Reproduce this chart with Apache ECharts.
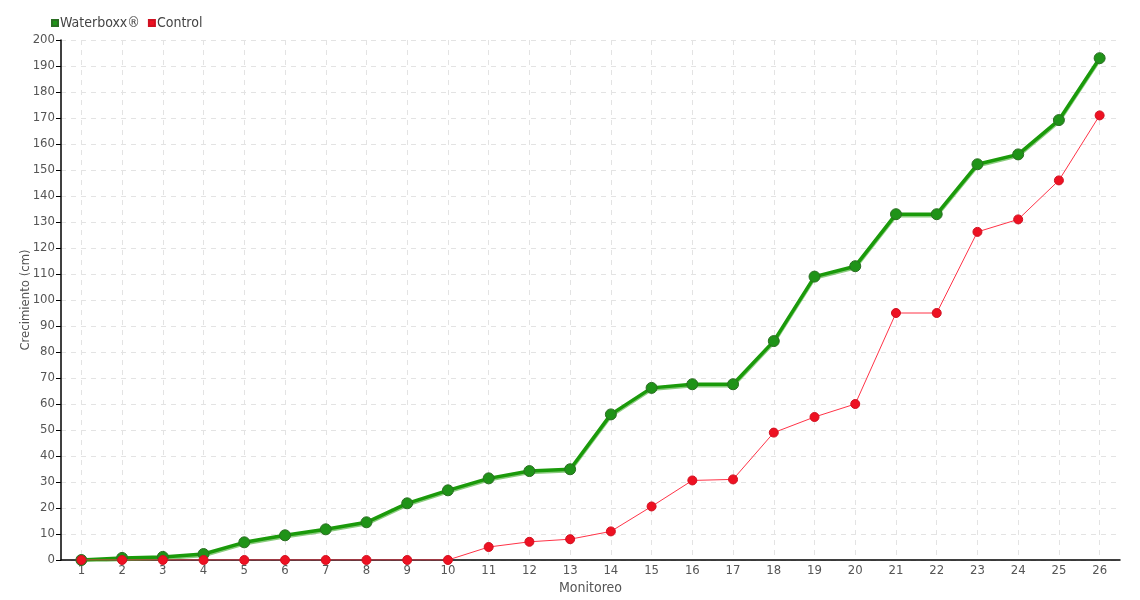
<!DOCTYPE html>
<html><head><meta charset="utf-8">
<script src="https://cdn.jsdelivr.net/npm/echarts@6/dist/echarts.min.js"></script>
<style>html,body{margin:0;padding:0;background:#fff}#c{width:1140px;height:600px}</style>
</head><body><div id="c"></div>
<script>
const categories = ['1','2','3','4','5','6','7','8','9','10','11','12','13','14','15','16','17','18','19','20','21','22','23','24','25','26'];
const waterboxx = [0,0.8,1.2,2.3,6.8,9.5,11.8,14.5,21.8,26.8,31.4,34.2,34.9,56,66.2,67.6,67.6,84.2,109,113,133,133,152.2,156,169.2,193];
const control = [0,0,0,0,0,0,0,0,0,0,5,7,8,11,20.6,30.6,31,49,55,60,95,95,126.2,131,146,171];
const yTicks = {min:0, max:200, interval:10};
const FONT = '"DejaVu Sans Condensed","DejaVu Sans",sans-serif';

const chart = echarts.init(document.getElementById('c'));
chart.setOption({
  animation:false,
  textStyle:{fontFamily:FONT},
  legend:{
    left:46, top:11, itemWidth:6, itemHeight:6, itemGap:8,
    icon:'rect',
    textStyle:{fontFamily:FONT,fontSize:14,color:'#444',padding:[0,0,0,-3]},
    data:['Waterboxx®','Control']
  },
  grid:{left:61,right:20,top:40,bottom:40,containLabel:false,outerBoundsMode:'none'},
  xAxis:{
    type:'category', data:categories, boundaryGap:true,
    name:'Monitoreo', nameLocation:'middle', nameGap:21, nameMoveOverlap:false,
    nameTextStyle:{fontFamily:FONT,fontSize:14,color:'#555'},
    axisLine:{lineStyle:{color:'#000',width:1.5}},
    axisTick:{show:false, alignWithLabel:true},
    axisLabel:{fontFamily:FONT,fontSize:13,color:'#555',margin:4},
    splitLine:{show:true, alignWithLabel:true, lineStyle:{color:'#e3e3e3',type:[5,5]}}
  },
  yAxis:{
    type:'value', min:yTicks.min, max:yTicks.max, interval:yTicks.interval,
    name:'Crecimiento (cm)', nameLocation:'middle', nameGap:29, nameRotate:90, nameMoveOverlap:false,
    nameTextStyle:{fontFamily:FONT,fontSize:13,color:'#555'},
    axisLine:{show:true,lineStyle:{color:'#000',width:1.5}},
    axisTick:{show:true,length:5,lineStyle:{color:'#000'}},
    axisLabel:{fontFamily:FONT,fontSize:13,color:'#555',margin:6},
    splitLine:{show:true,lineStyle:{color:'#e3e3e3',type:[5,5]}}
  },
  series:[
    {
      name:'Waterboxx®', type:'line', data:waterboxx,
      symbol:'circle', symbolSize:11, z:3,
      itemStyle:{color:'#1f9318',borderColor:'#2a6e22',borderWidth:1},
      lineStyle:{color:'#1a9a0a',width:3.5,shadowColor:'rgba(60,170,40,0.6)',shadowOffsetY:1.5,shadowBlur:0}
    },
    {
      name:'Control', type:'line', data:control,
      symbol:'circle', symbolSize:9, z:4,
      itemStyle:{color:'#ee1122',borderColor:'#d01020',borderWidth:1},
      lineStyle:{color:'#ff3347',width:1}
    }
  ]
});
</script></body></html>
